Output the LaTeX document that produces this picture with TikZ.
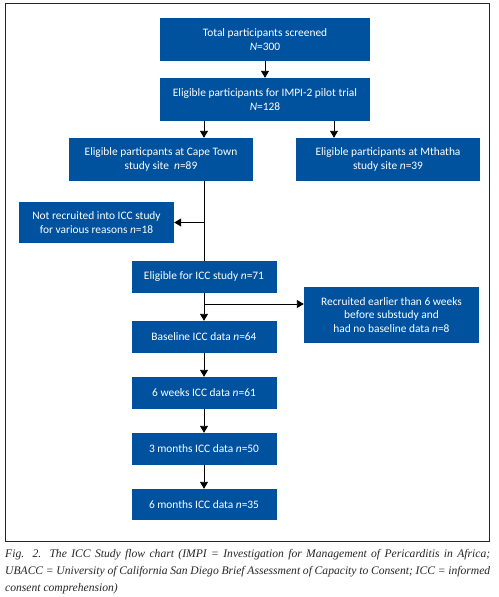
\documentclass[tikz,border=0pt]{standalone}
\usepackage{fontspec}
\setmainfont{Liberation Serif}
\newfontfamily\boxfont{Carlito}
\usetikzlibrary{arrows.meta}
\definecolor{flowblue}{RGB}{0,82,158}
\hyphenpenalty=10000

\begin{document}
\begin{tikzpicture}[x=1pt, y=-1pt, >={Triangle[length=7pt,width=8pt]},
    stepbox/.style={fill=flowblue, text=white, font=\boxfont\fontsize{11.4}{13.5}\selectfont,
        align=center, inner sep=0pt},
    flow/.style={->, line width=0.9pt}]
    % Canvas and frame
    \useasboundingbox (0,0) rectangle (498,597);
    \fill[white] (0,0) rectangle (498,597);
    \draw[line width=0.9pt, black!85] (5,3) rectangle (489.5,541);

    % Boxes
    \node[stepbox, minimum width=210pt, minimum height=43pt] (scr) at (265,39.5)
        {Total participants screened\\\textit{N}=300};
    \node[stepbox, minimum width=210pt, minimum height=43pt] (impi) at (265,99.5)
        {Eligible participants for IMPI-2 pilot trial\\\textit{N}=128};
    \node[stepbox, minimum width=184pt, minimum height=43pt] (cape) at (161,159.5)
        {Eligible particpants at Cape Town\\study site \ \textit{n}=89};
    \node[stepbox, minimum width=184pt, minimum height=43pt] (mth) at (388,159.5)
        {Eligible participants at Mthatha\\study site \textit{n}=39};
    \node[stepbox, minimum width=155pt, minimum height=41pt] (notrec) at (96.5,222.5)
        {Not recruited into ICC study\\for various reasons \textit{n}=18};
    \node[stepbox, minimum width=145pt, minimum height=32pt] (elig) at (204,277)
        {Eligible for ICC study \textit{n}=71};
    \node[stepbox, minimum width=175pt, minimum height=56pt] (early) at (391.5,315)
        {Recruited earlier than 6 weeks\\before substudy and\\had no baseline data \textit{n}=8};
    \node[stepbox, minimum width=145pt, minimum height=32pt] (base) at (204,337)
        {Baseline ICC data \textit{n}=64};
    \node[stepbox, minimum width=145pt, minimum height=32pt] (wk6) at (204,393)
        {6 weeks ICC data \textit{n}=61};
    \node[stepbox, minimum width=145pt, minimum height=32pt] (mo3) at (204,449)
        {3 months ICC data \textit{n}=50};
    \node[stepbox, minimum width=145pt, minimum height=31pt] (mo6) at (204,504.5)
        {6 months ICC data \textit{n}=35};

    % Branch points
    \coordinate (ctop) at (204,121);
    \coordinate (mtop) at (334,121);
    \coordinate (split1) at (204,222.5);
    \coordinate (split2) at (204,304);

    % Connectors
    \draw[flow] (scr) -- (impi);
    \draw[flow] (ctop) -- (ctop |- cape.north);
    \draw[flow] (mtop) -- (mtop |- mth.north);
    \draw[line width=0.9pt] (ctop |- cape.south) -- (elig.north);
    \draw[flow] (split1) -- (notrec.east);
    \draw[flow] (elig) -- (base);
    \draw[flow] (split2) -- (split2 -| early.west);
    \draw[flow] (base) -- (wk6);
    \draw[flow] (wk6) -- (mo3);
    \draw[flow] (mo3) -- (mo6);

    % Caption
    \node[text width=485pt, align=justify, inner sep=0pt, anchor=north west,
        font=\itshape\fontsize{11.6}{17}\selectfont, text=black!85] (cap) at (5,549)
        {Fig. 2. The ICC Study flow chart (IMPI = Investigation for Management of Pericarditis in Africa;\linebreak
        UBACC = University of California San Diego Brief Assessment of Capacity to Consent; ICC = informed\linebreak
        consent comprehension)};
\end{tikzpicture}
\end{document}
